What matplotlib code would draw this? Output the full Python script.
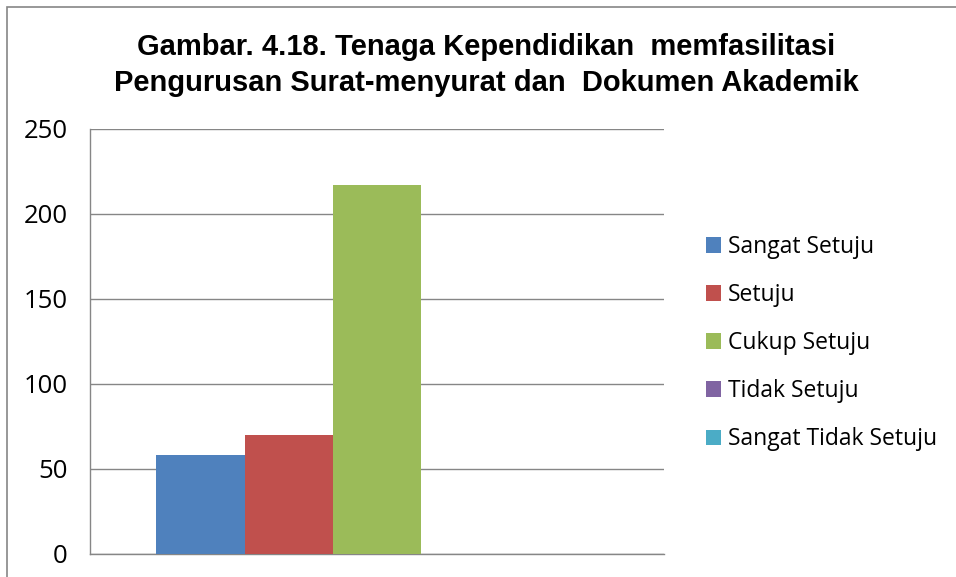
import matplotlib
matplotlib.use("Agg")
import matplotlib.pyplot as plt
from matplotlib.patches import Rectangle
import numpy as np

categories = ["Sangat Setuju", "Setuju", "Cukup Setuju", "Tidak Setuju", "Sangat Tidak Setuju"]
values = [58, 70, 217, 0, 0]
colors = ["#4F81BD", "#C0504D", "#9BBB59", "#8064A2", "#4BACC6"]
yticks = [0, 50, 100, 150, 200, 250]
title = "Gambar. 4.18. Tenaga Kependidikan  memfasilitasi\nPengurusan Surat-menyurat dan  Dokumen Akademik"

W, H = 956, 577
fig = plt.figure(figsize=(W / 100, H / 100), dpi=100)
fig.patch.set_facecolor("white")

# chart border
fig.patches.append(Rectangle((7 / W, -0.05), 1.2, (1 - 7 / H) + 0.05, transform=fig.transFigure,
                             fill=False, edgecolor="#868686", linewidth=1.2))

ax = fig.add_axes([90 / W, 1 - 553.5 / H, (664 - 90) / W, (553.5 - 129) / H])
n = len(values)
bw = 1.0 / (n + 1.5)
x0 = -n * bw / 2 + bw / 2
handles = []
for i, (c, v, col) in enumerate(zip(categories, values, colors)):
    h = ax.bar(x0 + i * bw, v, width=bw, color=col, label=c, zorder=3)
    handles.append(h)
ax.set_xlim(-0.5, 0.5)
ax.set_ylim(0, 250)
ax.set_yticks(yticks)
ax.set_xticks([])
ax.yaxis.grid(True, color="#868686", linewidth=1.0, zorder=0)
for s in ["top", "right"]:
    ax.spines[s].set_visible(False)
for s in ["left", "bottom"]:
    ax.spines[s].set_color("#868686")
    ax.spines[s].set_linewidth(1.0)
ax.tick_params(axis="y", length=0, pad=16, labelsize=18.5)
for lab in ax.get_yticklabels():
    lab.set_fontfamily("Open Sans")

fig.text(486 / W, 1 - 65 / H, title, ha="center", va="center", fontsize=21,
         fontweight="bold", family="Liberation Sans", linespacing=1.35)

leg = fig.legend(handles=handles, labels=categories, loc="upper left",
                 bbox_to_anchor=(706 / W, 1 - 235 / H), frameon=False,
                 prop={"family": "Open Sans", "size": 16.5},
                 handlelength=0.65, handleheight=0.65, handletextpad=0.3,
                 labelspacing=1.05, borderaxespad=0, borderpad=0)

fig.savefig("out.png", dpi=100)
